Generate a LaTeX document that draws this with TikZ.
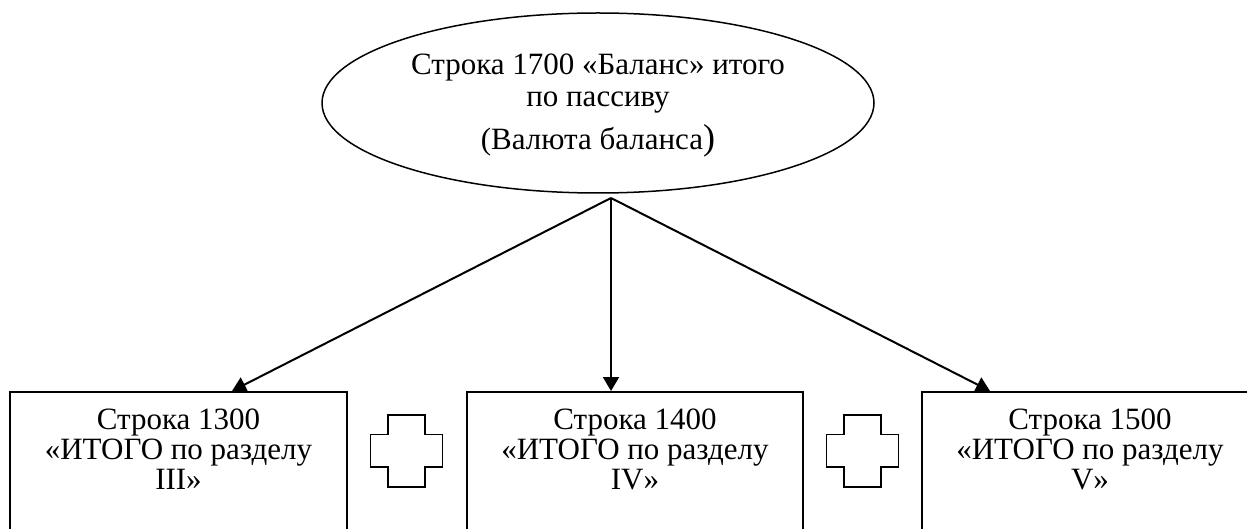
\documentclass[tikz,border=0pt]{standalone}
\usepackage{fontspec}
\setmainfont{Liberation Serif}
\usetikzlibrary{shapes.geometric,arrows.meta}
\begin{document}
\begin{tikzpicture}[x=1pt,y=-1pt,
  txt/.style={font=\fontsize{31}{30}\selectfont, align=center, inner sep=0pt},
  oval/.style={ellipse, draw, line width=1.5pt, minimum width=552pt, minimum height=180pt, inner sep=0pt,
    font=\fontsize{31}{32}\selectfont, align=center},
  box/.style={draw, line width=1.5pt, minimum width=336pt, minimum height=170pt, inner sep=0pt, anchor=north},
  conn/.style={line width=2pt, -{Triangle[length=14pt,width=16pt]}},
  crossline/.style={line width=1.5pt}]
\clip (0,0) rectangle (1247,529);
\fill[white] (0,0) rectangle (1247,529);
% top ellipse
\node[oval] (top) at (598,103) {\rule{0pt}{26pt}Строка 1700 «Баланс» итого\\по пассиву\\[11pt](Валюта баланса{\fontsize{36}{36}\selectfont)}};
\coordinate (o) at (611,198);
% boxes
\node[box, minimum width=337pt] (b1) at (178.5,391) {};
\node[box] (b2) at (635,391) {};
\node[box] (b3) at (1090,391) {};
\node[txt, anchor=north] (t1) at (178.5,409) {Строка 1300\\«ИТОГО по разделу\\III»};
\node[txt, anchor=north] (t2) at (635,409) {Строка 1400\\«ИТОГО по разделу\\IV»};
\node[txt, anchor=north] (t3) at (1090,409) {Строка 1500\\«ИТОГО по разделу\\V»};
% arrow ends on box tops
\coordinate (e1) at (232,391);
\coordinate (e2) at (611,391);
\coordinate (e3) at (990,391);
\draw[conn] (o) -- (e1);
\draw[conn] (o) -- (e2);
\draw[conn] (o) -- (e3);
% plus signs
\foreach \cx in {406.5,862.5}{
  \draw[crossline] (\cx-18.5,415) -- (\cx+18.5,415) -- (\cx+18.5,434.5) -- (\cx+36,434.5) -- (\cx+36,467) -- (\cx+18.5,467) -- (\cx+18.5,487) -- (\cx-18.5,487) -- (\cx-18.5,467) -- (\cx-36,467) -- (\cx-36,434.5) -- (\cx-18.5,434.5) -- cycle;
}
\end{tikzpicture}
\end{document}
